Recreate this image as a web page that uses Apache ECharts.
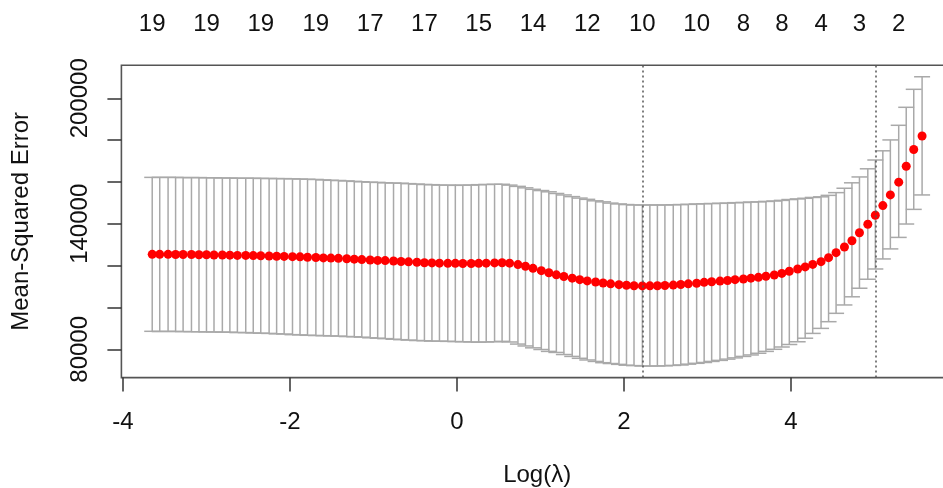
<!DOCTYPE html>
<html>
<head>
<meta charset="utf-8">
<script src="https://cdn.jsdelivr.net/npm/echarts@6/dist/echarts.min.js"></script>
<style>html,body{margin:0;padding:0;background:#fff;overflow:hidden;}#chart{width:943px;height:488px;}</style>
</head>
<body>
<div id="chart"></div>
<script>
// log(lambda) grid of the cross-validation path
const logLambda = [
 -3.65,-3.56,-3.46,-3.37,-3.28,-3.18,-3.09,-3.00,-2.91,-2.81,
 -2.72,-2.63,-2.53,-2.44,-2.35,-2.25,-2.16,-2.07,-1.97,-1.88,
 -1.79,-1.69,-1.60,-1.51,-1.42,-1.32,-1.23,-1.14,-1.04,-0.95,
 -0.86,-0.76,-0.67,-0.58,-0.48,-0.39,-0.30,-0.21,-0.11,-0.02,
 0.07,0.17,0.26,0.35,0.45,0.54,0.63,0.73,0.82,0.91,
 1.01,1.10,1.19,1.28,1.38,1.47,1.56,1.66,1.75,1.84,
 1.94,2.03,2.12,2.22,2.31,2.40,2.49,2.59,2.68,2.77,
 2.87,2.96,3.05,3.15,3.24,3.33,3.43,3.52,3.61,3.70,
 3.80,3.89,3.98,4.08,4.17,4.26,4.36,4.45,4.54,4.64,
 4.73,4.82,4.92,5.01,5.10,5.19,5.29,5.38,5.47,5.57
];
// mean cross-validated error
const cvm = [
 125400,125400,125400,125300,125300,125300,125200,125200,125100,125100,
 125000,124900,124900,124800,124700,124600,124500,124400,124300,124200,
 124000,123900,123700,123600,123500,123300,123100,122900,122700,122500,
 122400,122200,122000,121800,121600,121400,121300,121200,121100,121100,
 121000,121000,121100,121200,121300,121400,121200,120500,119700,118700,
 117600,116600,115600,114800,114000,113300,112700,112200,111700,111300,
 110900,110600,110400,110300,110350,110400,110500,110700,111000,111300,
 111600,112000,112300,112600,112900,113300,113600,114000,114400,114900,
 115500,116300,117300,118400,119400,120600,121900,123800,126200,128900,
 131900,135700,139800,144100,148700,153800,159900,167500,175500,182000
];
// upper error bar
const cvup = [
 162200,162200,162200,162200,162100,162100,162100,162000,162000,161900,
 161900,161800,161800,161800,161700,161700,161600,161600,161500,161400,
 161300,161200,161000,160800,160700,160500,160300,160100,159900,159800,
 159600,159500,159400,159200,159000,158800,158700,158500,158500,158400,
 158500,158500,158700,158800,158900,158900,158500,157900,157200,156500,
 155900,155300,154500,153800,153000,152300,151700,151000,150500,149900,
 149500,149200,149000,149000,149000,149000,149000,149100,149200,149300,
 149500,149600,149700,149800,149900,150100,150200,150400,150500,150700,
 150900,151200,151600,151900,152200,152600,152900,153600,154900,157000,
 159600,162400,166300,170500,174900,180100,187100,195700,204300,210300
];
// lower error bar
const cvlo = [
 88600,88500,88600,88500,88500,88400,88400,88300,88300,88200,
 88200,88000,88000,87800,87700,87600,87400,87300,87000,86900,
 86700,86600,86500,86400,86300,86100,86000,85800,85500,85300,
 85100,84800,84600,84400,84200,84100,83900,83900,83800,83700,
 83600,83500,83400,83500,83600,83800,83500,82500,81600,80700,
 79900,79000,78500,77500,76600,75700,74900,74200,73600,73200,
 72800,72400,72200,72000,72000,72000,72100,72300,72500,72900,
 73300,73700,74200,74700,75300,75900,76600,77300,78100,79000,
 80000,81100,82300,83600,85300,87600,90000,93200,97200,101200,
 105100,109200,113500,118400,123200,128000,133500,139900,146900,153800
];
// number of non-zero coefficients shown on the top axis (at these lambda indices)
const nzIndex = [0,7,14,21,28,35,42,49,56,63,70,76,81,86,91,96];
const nzLabels = ['19','19','19','19','17','17','15','14','12','10','10','8','8','4','3','2'];
// lambda.min and lambda.1se (log scale)
const logLambdaMin = 2.22;
const logLambda1se = 5.01;
// axis ticks
const xTicks = [-4,-2,0,2,4];
const yTicks = [80000,100000,120000,140000,160000,180000,200000];
const yTickLabels = [80000,140000,200000];
const xRange = [-4.019, 5.939];
const yRange = [66470, 215830];

const FONT = 'Liberation Sans';
const TXT = '#111';
const topPos = nzIndex.map(i => logLambda[i]);

const chart = echarts.init(document.getElementById('chart'), null, {renderer:'canvas'});
const barData = logLambda.map((x, i) => [x, cvlo[i], cvup[i]]);
const ptData = logLambda.map((x, i) => [x, cvm[i]]);
const CAP = 8;

chart.setOption({
  animation: false,
  backgroundColor: '#fff',
  grid: {left: 121.4, top: 65.2, width: 831.5, height: 312.4, show: true,
         outerBoundsMode: 'none', containLabel: false,
         borderColor: '#555', borderWidth: 1.6, backgroundColor: 'transparent'},
  xAxis: [{
    type: 'value', min: xRange[0], max: xRange[1], position: 'bottom',
    splitLine: {show: false}, axisLine: {show: false, onZero: false},
    axisTick: {show: true, customValues: xTicks, length: 14, lineStyle: {color: '#333', width: 1.5}},
    axisLabel: {customValues: xTicks, fontSize: 24, fontFamily: FONT, color: TXT, margin: 33,
      formatter: v => String(v)},
    name: 'Log(λ)', nameLocation: 'middle', nameGap: 85.5,
    nameTextStyle: {fontSize: 24, fontFamily: FONT, color: TXT}
  }, {
    type: 'value', min: xRange[0], max: xRange[1], position: 'top',
    splitLine: {show: false}, axisLine: {show: false, onZero: false}, axisTick: {show: false},
    axisLabel: {customValues: topPos, fontSize: 24, fontFamily: FONT, color: TXT, margin: 29,
      formatter: v => { const k = topPos.indexOf(v); return k >= 0 ? nzLabels[k] : ''; }}
  }],
  yAxis: {
    type: 'value', min: yRange[0], max: yRange[1], position: 'left',
    splitLine: {show: false}, axisLine: {show: false, onZero: false},
    axisTick: {show: true, customValues: yTicks, length: 14, lineStyle: {color: '#333', width: 1.5}},
    axisLabel: {customValues: yTickLabels, rotate: 90, fontSize: 24, fontFamily: FONT, color: TXT, margin: 29.4,
      formatter: v => String(v)},
    name: 'Mean-Squared Error', nameLocation: 'middle', nameRotate: 90, nameGap: 88,
    nameTextStyle: {fontSize: 24, fontFamily: FONT, color: TXT}
  },
  series: [{
    type: 'custom', data: barData, encode: {x: 0, y: [1, 2]}, silent: true, z: 1,
    renderItem: function (params, api) {
      const x = api.value(0);
      const pu = api.coord([x, api.value(2)]);
      const pl = api.coord([x, api.value(1)]);
      const st = {stroke: '#A9A9A9', lineWidth: 1.5};
      return {type: 'group', children: [
        {type: 'line', shape: {x1: pu[0], y1: pu[1], x2: pl[0], y2: pl[1]}, style: st},
        {type: 'line', shape: {x1: pu[0] - CAP, y1: pu[1], x2: pu[0] + CAP, y2: pu[1]}, style: st},
        {type: 'line', shape: {x1: pl[0] - CAP, y1: pl[1], x2: pl[0] + CAP, y2: pl[1]}, style: st}
      ]};
    }
  }, {
    type: 'scatter', data: ptData, symbol: 'circle', symbolSize: 9, z: 2, silent: true,
    itemStyle: {color: '#FF0000', opacity: 1}
  }, {
    type: 'line', data: [], z: 3, silent: true,
    markLine: {silent: true, symbol: ['none', 'none'], label: {show: false},
      lineStyle: {type: [2, 3], color: '#555', width: 1.5},
      data: [{xAxis: logLambdaMin}, {xAxis: logLambda1se}]}
  }]
});
</script>
</body>
</html>
